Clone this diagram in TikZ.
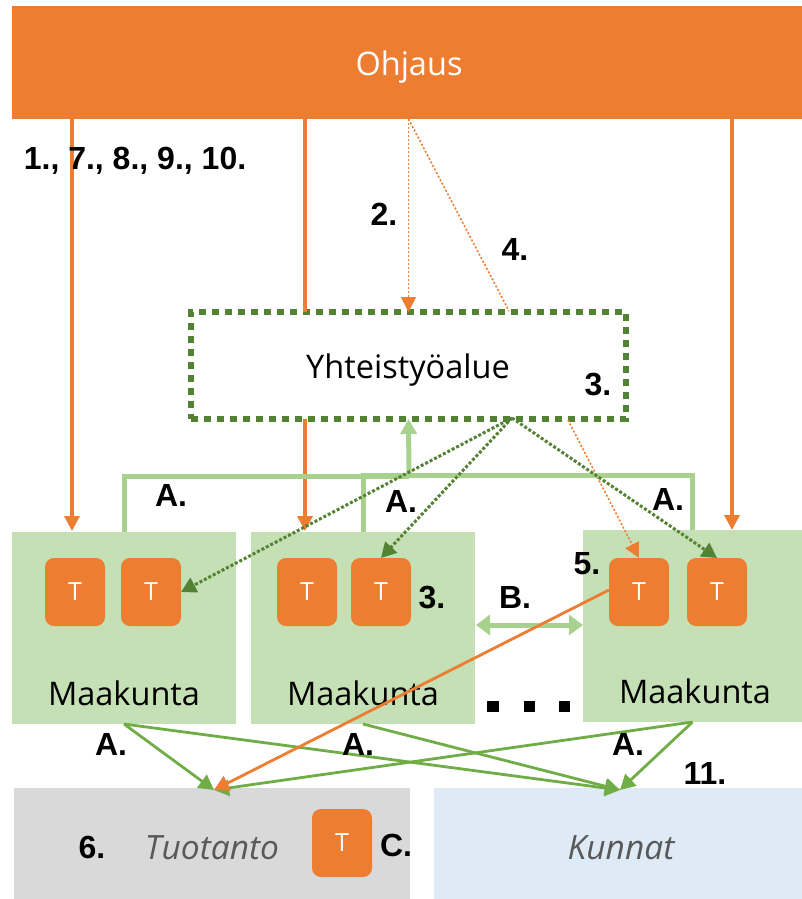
\documentclass[tikz,border=0pt]{standalone}
\usepackage{fontspec}
\setmainfont{Open Sans}
\newfontfamily\lblfont{Liberation Sans}
\usetikzlibrary{arrows.meta}
\definecolor{org}{HTML}{ED7D31}
\definecolor{lgreen}{HTML}{C5E0B4}
\definecolor{mgreen}{HTML}{A9D18E}
\definecolor{dgreen}{HTML}{548235}
\definecolor{agreen}{HTML}{70AD47}
\definecolor{greybox}{HTML}{D9D9D9}
\definecolor{bluebox}{HTML}{DEEAF6}
\definecolor{greytxt}{HTML}{595959}
\tikzset{
  area/.style={inner sep=0pt,outer sep=0pt,draw=none,fill=#1},
  tbox/.style={inner sep=0pt,outer sep=0pt,fill=org,rounded corners=9pt,minimum width=60pt,minimum height=68pt,text=white,font=\fontsize{25}{28}\selectfont},
  big/.style={inner sep=0pt,font=\fontsize{32.5}{38}\selectfont},
  bigit/.style={inner sep=0pt,text=greytxt,font=\itshape\fontsize{33.5}{38}\selectfont},
  lbl/.style={inner sep=0pt,font=\lblfont\bfseries\fontsize{32}{35}\selectfont},
  flow/.style={draw=org,line width=3.5pt,-{Triangle[length=15pt,width=15pt]}},
  flowplain/.style={draw=org,line width=3.5pt},
  thinorg/.style={draw=org,line width=1.6pt,dash pattern=on 2pt off 2pt},
  thinorgarrow/.style={thinorg,-{Triangle[length=15pt,width=15pt,fill=org]}},
  dgarrow/.style={draw=dgreen,line width=3pt,dash pattern=on 3pt off 2pt,-{Triangle[length=15pt,width=16pt,fill=dgreen]}},
  lg/.style={draw=mgreen,line width=5pt},
  ag/.style={draw=agreen,line width=2.8pt,-{Triangle[length=15pt,width=16pt]}},
}
\begin{document}
\begin{tikzpicture}[x=1pt,y=-1pt]
\useasboundingbox (0,0) rectangle (802,899);
% areas
\node[area=org,minimum width=790pt,minimum height=113pt] (ohj) at (407,62.5) {};
\node[area=lgreen,minimum width=224pt,minimum height=192pt] (m1) at (124,628) {};
\node[area=lgreen,minimum width=224pt,minimum height=192pt] (m2) at (363,628) {};
\node[area=lgreen,minimum width=219pt,minimum height=192pt] (m3) at (692.5,626) {};
\node[area=greybox,minimum width=396pt,minimum height=111pt] (tuo) at (212,843.5) {};
\node[area=bluebox,minimum width=368pt,minimum height=111pt] (kun) at (618,843.5) {};
\node[inner sep=0pt,outer sep=0pt,minimum width=435pt,minimum height=107pt,draw=dgreen,line width=5.5pt,dash pattern=on 7pt off 6pt] (yht) at (408.5,365.5) {};
% area texts
\node[big,text=white] (ohjt) at (409,67) {Ohjaus};
\node[big] (yhtt) at (408,370) {Yhteistyöalue};
\node[big] (m1t) at (124,693) {Maakunta};
\node[big] (m2t) at (363,693) {Maakunta};
\node[big] (m3t) at (695,691) {Maakunta};
\node[bigit] (tuot) at (212,848) {Tuotanto};
\node[bigit] (kunt) at (621,848) {Kunnat};
% T boxes
\node[tbox] (t11) at (75,592) {T};
\node[tbox] (t12) at (151,592) {T};
\node[tbox] (t21) at (307,592) {T};
\node[tbox] (t22) at (381,592) {T};
\node[tbox] (t31) at (639,592) {T};
\node[tbox] (t32) at (717,592) {T};
\node[tbox] (t4) at (342,843) {T};
% end points
\coordinate (c1) at (72,531);
\coordinate (c2) at (305,531);
\coordinate (c3) at (732,530);
\coordinate (tin) at (214,790);
\coordinate (kin) at (620,790);
\coordinate (lj1) at (409,476);
\coordinate (lj2) at (409,475);
% solid orange
\draw[flow] (ohj.south -| c1) -- (c1);
\draw[flowplain] (ohj.south -| c2) -- (yht.north -| c2);
\draw[flow] (yht.south -| c2) -- (c2);
\draw[flow] (ohj.south -| c3) -- (c3);
% thin dotted orange
\draw[thinorgarrow] (ohj.south -| yht.north) -- (yht.north);
\coordinate (yn4) at (509,311);
\coordinate (ys5) at (568,420);
\draw[thinorg] (ohj.south -| yht.north) -- (yn4);
\draw[thinorgarrow] (ys5) -- (t31.north);
% light green tree
\draw[lg] (m1.north) -- (m1.north |- lj1) -- (lj1);
\draw[lg] (m2.north) -- (m2.north |- lj2) -- (m3.north |- lj2) -- (m3.north);
\draw[lg,-{Triangle[length=15pt,width=16pt]}] (lj1) -- (yht.south);
\draw[lg,{Triangle[length=14pt,width=20pt]}-{Triangle[length=14pt,width=20pt]}] (m2.east |- t22.south) ++(1,-1) coordinate (b1) -- (m3.west |- b1);
% dark dotted
\coordinate (yd) at (512,418);
\draw[dgarrow] (yd) -- (t12.east);
\draw[dgarrow] (yd) -- (t22.north);
\draw[dgarrow] (yd) -- (t32.north);
% green to bottom
\draw[ag] (m1.south) -- (tin);
\draw[ag] (m1.south) -- (kin);
\draw[ag] (m2.south) -- (kin);
\draw[ag] (m3.south) -- (tin);
\draw[ag] (m3.south) -- (kin);
\draw[draw=org,line width=2.8pt,-{Triangle[length=15pt,width=16pt]}] (t31.west) ++(0,-2) -- (tin);
% dots
\fill (487,701) rectangle (499,712);
\fill (524,701) rectangle (535,712);
\fill (559,701) rectangle (570,712);
% labels
\node[lbl] (l1) at (135,161) {1., 7., 8., 9., 10.};
\node[lbl] (l2) at (384,214) {2.};
\node[lbl] (l4) at (515,249) {4.};
\node[lbl] (l3a) at (598,385) {3.};
\node[lbl] (la1) at (171,495) {A.};
\node[lbl] (la2) at (401,501) {A.};
\node[lbl] (la3) at (668,499) {A.};
\node[lbl] (l3b) at (432,597) {3.};
\node[lbl] (l5) at (587,564) {5.};
\node[lbl] (lb) at (515,597) {B.};
\node[lbl] (la4) at (111,744) {A.};
\node[lbl] (la5) at (358,744) {A.};
\node[lbl] (la6) at (628,744) {A.};
\node[lbl] (l11) at (705,773) {11.};
\node[lbl] (l6) at (92,847) {6.};
\node[lbl] (lc) at (396,845) {C.};
\end{tikzpicture}
\end{document}
